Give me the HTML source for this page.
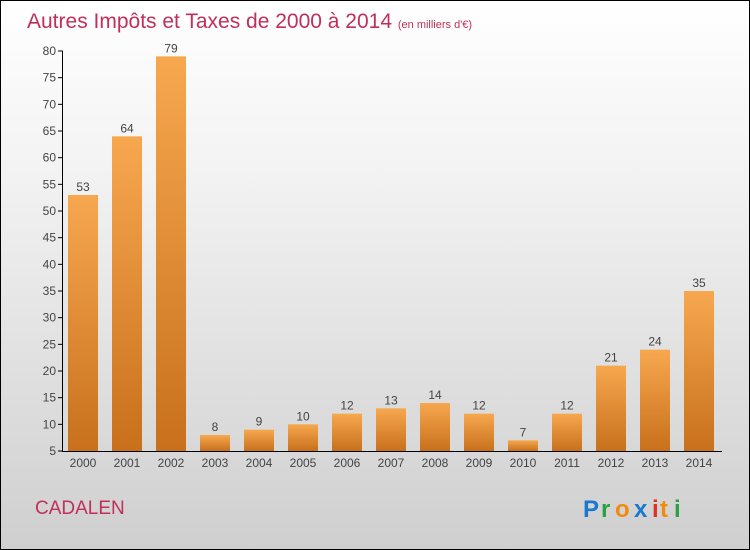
<!DOCTYPE html>
<html><head><meta charset="utf-8"><style>
body{margin:0}
#c{width:748px;height:548px;border:1px solid #000;position:relative;background:linear-gradient(#ffffff,#f3f3f3 30%,#cfcfcf);font-family:"Liberation Sans",sans-serif;overflow:hidden}
</style></head><body>
<div id="c">
<svg id="s" width="748" height="548" style="position:absolute;left:0;top:0">
<defs><linearGradient id="g" x1="0" y1="0" x2="0" y2="1"><stop offset="0" stop-color="#f7a84f"/><stop offset="1" stop-color="#c8701c"/></linearGradient></defs>
<text x="26" y="27" font-size="21" fill="#c0305a">Autres Impôts et Taxes de 2000 à 2014 <tspan font-size="11">(en milliers d'€)</tspan></text>
<text x="34" y="513" font-size="19" fill="#c0305a">CADALEN</text>
<g font-size="24" font-weight="bold"><text x="582" y="516" fill="#1a78d0">P</text><text x="600" y="516" fill="#2aa040">r</text><text x="614" y="516" fill="#f08a10">o</text><text x="633" y="516" fill="#1a78d0">x</text><text x="651" y="516" fill="#e03020">i</text><text x="659" y="516" fill="#f08a10">t</text><text x="673" y="516" fill="#2aa040">i</text></g>
</svg>
</div>
<script>
const categories=["2000","2001","2002","2003","2004","2005","2006","2007","2008","2009","2010","2011","2012","2013","2014"];
const values=[53,64,79,8,9,10,12,13,14,12,7,12,21,24,35];
const yTicks=[5,10,15,20,25,30,35,40,45,50,55,60,65,70,75,80];
const s=document.getElementById('s');const NS='http://www.w3.org/2000/svg';
const y=v=>450-(v-5)*400/75;const x=i=>82+44*i;
function el(t,a,txt){const e=document.createElementNS(NS,t);for(const k in a)e.setAttribute(k,a[k]);if(txt!=null)e.textContent=txt;s.appendChild(e);return e;}
yTicks.forEach(t=>{
 const l=el('line',{x1:57,x2:62,y1:y(t),y2:y(t),stroke:'#000'});
 
 
 const tx=el('text',{x:55,y:y(t)+4,'font-size':12,fill:'#444','text-anchor':'end'},t);
 
 
});
values.forEach((v,i)=>{
 const r=el('rect',{x:x(i)-15,y:y(v),width:30,height:450-y(v),fill:'url(#g)'});
 
 
 const vl=el('text',{x:x(i),y:y(v)-4,'font-size':12,fill:'#444','text-anchor':'middle'},v);
 
 
 const xl=el('text',{x:x(i),y:466,'font-size':12,fill:'#444','text-anchor':'middle'},categories[i]);
 
 
});
const ya=el('line',{x1:61.5,x2:61.5,y1:50,y2:450,stroke:'#000'});


const xa=el('line',{x1:61,x2:721,y1:450.5,y2:450.5,stroke:'#000'});


</script>
</body></html>
